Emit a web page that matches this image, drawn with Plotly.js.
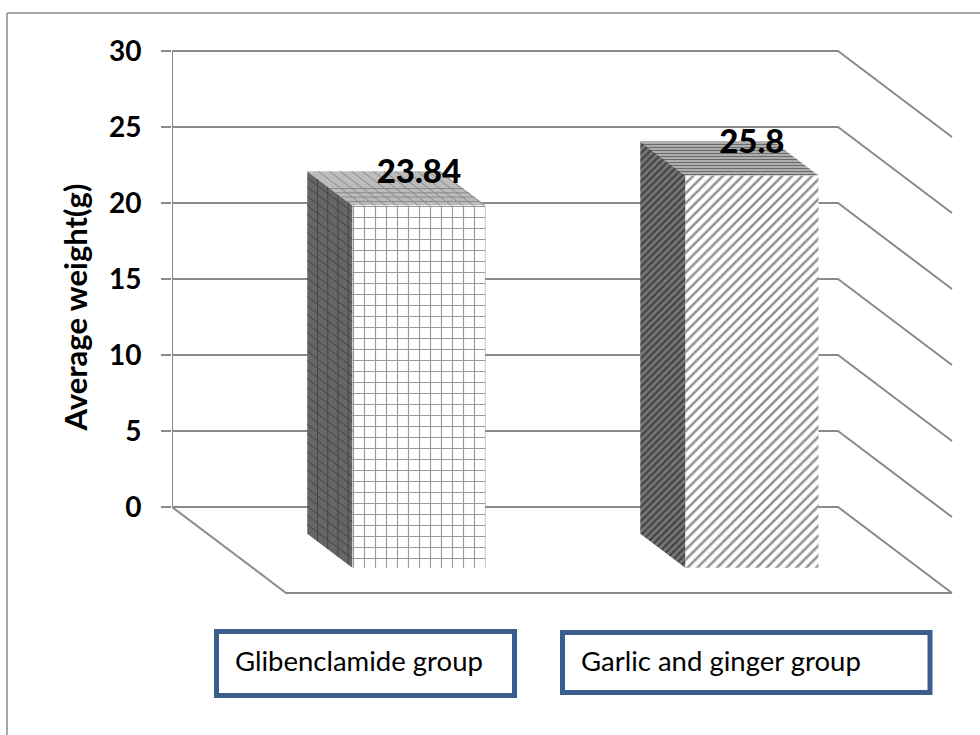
<!DOCTYPE html>
<html>
<head>
<meta charset="utf-8">
<script src="https://cdn.plot.ly/plotly-3.0.1.min.js"></script>
<style>html,body{margin:0;padding:0;background:#fff}</style>
</head>
<body>
<div id="chart" style="width:980px;height:735px"></div>
<script>
// Average weight per treatment group
const categories = ["Glibenclamide group", "Garlic and ginger group"];
const values = [23.84, 25.8];
const tickValues = [0, 5, 10, 15, 20, 25, 30];

// Plot frame in page pixels
const L = 172, R = 960, T = 14, B = 600, W = 980, H = 735;
const pxPerUnit = 15.2, pxPerCategory = 333;
const zeroPx = 507;

// Oblique projection: depth 0 is the back wall, depth 1 the front of the floor
const depthX = 114 / pxPerCategory, depthY = 86 / pxPerUnit;
const barWidth = 0.4, barBack = 0.31, barFront = 0.705;
const AXIS_GREY = "#8a8a8a";
const FONT = "Lato, 'Open Sans', sans-serif";

const proj = (cat, val, depth) => [cat + depth * depthX, val - depth * depthY];
const paperX = (p) => (p - L) / (R - L);
const paperY = (p) => (B - p) / (B - T);

function polyline(pts) {
  const path = pts.map((p, i) => (i ? "L" : "M") + p[0] + "," + p[1]).join(" ");
  return {type: "path", xref: "x", yref: "y", path, layer: "below",
          line: {color: AXIS_GREY, width: 2}};
}

// Back wall gridlines run across the wall and then forward along the side
const wallShapes = tickValues.map((v) => polyline([proj(0, v, 0), proj(2, v, 0), proj(2, v, 1)]));
wallShapes.push(polyline([proj(0, 0, 0), proj(0, 30, 0)]));
wallShapes.push(polyline([proj(0, 0, 0), proj(0, 0, 1), proj(2, 0, 1)]));

function paperRect(x0, y0, x1, y1, color, width) {
  return {type: "rect", xref: "paper", yref: "paper",
          x0: paperX(x0), x1: paperX(x1), y0: paperY(y0), y1: paperY(y1),
          line: {color, width}, fillcolor: "rgba(0,0,0,0)"};
}
function paperLine(x0, y0, x1, y1) {
  return {type: "line", xref: "paper", yref: "paper",
          x0: paperX(x0), x1: paperX(x1), y0: paperY(y0), y1: paperY(y1),
          line: {color: AXIS_GREY, width: 1.5}};
}

// Legend boxes and the outer chart border
const BOX = "#3a5f8f";
const pageShapes = [
  paperLine(7, 13, 7, 735), paperLine(7, 13, 980, 13),
  paperRect(216.5, 631.5, 514.5, 695.5, BOX, 5),
  paperRect(562.5, 632.5, 930, 692.5, BOX, 5)
];

// Front face hatching per bar
const frontPattern = {
  shape: ["+", "/"], size: [11, 7], solidity: [0.2, 0.36],
  fgcolor: ["#9a9a9a", "#8f8f8f"], bgcolor: ["#ffffff", "#ffffff"], fillmode: "replace"
};

const centers = categories.map((_, i) => i + 0.5);
const frontFloor = -barFront * depthY;
const labelLift = 31 / pxPerUnit;

// Front faces: bars standing on the projected floor
const frontTrace = {
  type: "bar",
  x: centers.map((c) => c + barFront * depthX),
  y: values,
  base: values.map(() => frontFloor),
  width: barWidth,
  marker: {color: "#ffffff", line: {width: 0}, pattern: frontPattern},
  hoverinfo: "skip", showlegend: false
};

function faceTrace(pts, fillcolor, pattern) {
  const ring = pts.concat([pts[0]]);
  const t = {
    type: "scatter", mode: "lines", fill: "toself",
    x: ring.map((p) => p[0]), y: ring.map((p) => p[1]),
    line: {width: 0}, fillcolor,
    hoverinfo: "skip", showlegend: false
  };
  if (pattern) t.fillpattern = pattern;
  return t;
}

// A set of ruled segments following the projection, for the skewed check pattern
function ruling(segments, color, width) {
  const x = [], y = [];
  segments.forEach(([a, b]) => { x.push(a[0], b[0], null); y.push(a[1], b[1], null); });
  return {type: "scatter", mode: "lines", x, y, line: {color, width},
          hoverinfo: "skip", showlegend: false};
}

const faceTraces = [];
values.forEach((v, i) => {
  const l = centers[i] - barWidth / 2, r = centers[i] + barWidth / 2;
  const side = [proj(l, 0, barBack), proj(l, 0, barFront), proj(l, v, barFront), proj(l, v, barBack)];
  const top = [proj(l, v, barBack), proj(l, v, barFront), proj(r, v, barFront), proj(r, v, barBack)];
  if (i === 0) {
    // Check pattern, ruled in the plane of each face
    faceTraces.push(faceTrace(side, "#666666"));
    const sideLines = [];
    for (let d = barBack + 0.09; d < barFront; d += 0.09) sideLines.push([proj(l, 0, d), proj(l, v, d)]);
    for (let u = 0.6; u < v; u += 0.6) sideLines.push([proj(l, u, barBack), proj(l, u, barFront)]);
    faceTraces.push(ruling(sideLines, "#444444", 1));
    faceTraces.push(faceTrace(top, "#bcbcbc"));
    const topLines = [];
    for (let c = l + 0.033; c < r; c += 0.033) topLines.push([proj(c, v, barBack), proj(c, v, barFront)]);
    for (let d = barBack + 0.2; d < barFront; d += 0.05) topLines.push([proj(l, v, d), proj(r, v, d)]);
    faceTraces.push(ruling(topLines, "#8a8a8a", 1));
  } else {
    faceTraces.push(faceTrace(side, "#777777",
      {shape: "/", size: 5, solidity: 0.45, fgcolor: "#444444", bgcolor: "#777777"}));
    faceTraces.push(faceTrace(top, "#bdbdbd",
      {shape: "-", size: 3, solidity: 0.45, fgcolor: "#6a6a6a", bgcolor: "#bdbdbd"}));
  }
});

// Value labels float above the front edge of each bar top
const labelTrace = {
  type: "scatter", mode: "text",
  x: centers.map((c) => c + barFront * depthX),
  y: values.map((v) => v + frontFloor + labelLift),
  text: values.map(String),
  textposition: "middle center",
  textfont: {family: FONT, size: 33, color: "#000", weight: 900},
  hoverinfo: "skip", showlegend: false, cliponaxis: false
};

const layout = {
  width: W, height: H,
  margin: {l: L, r: W - R, t: T, b: H - B, pad: 0},
  paper_bgcolor: "#ffffff", plot_bgcolor: "rgba(0,0,0,0)",
  showlegend: false, hovermode: false,
  xaxis: {range: [0, (R - L) / pxPerCategory], visible: false, fixedrange: true},
  yaxis: {
    range: [(zeroPx - B) / pxPerUnit, (zeroPx - T) / pxPerUnit],
    tickmode: "array", tickvals: tickValues, ticktext: tickValues.map(String),
    ticks: "outside", ticklen: 10, tickwidth: 2, tickcolor: AXIS_GREY,
    ticklabelstandoff: 14,
    showgrid: false, zeroline: false, showline: false, fixedrange: true,
    tickfont: {family: FONT, size: 28, color: "#000", weight: 700},
    title: {text: "Average weight(g)", standoff: 12,
            font: {family: FONT, size: 31, color: "#000", weight: 700}}
  },
  shapes: wallShapes.concat(pageShapes),
  annotations: [
    {xref: "paper", yref: "paper", x: paperX(233), y: paperY(660), xanchor: "left", yanchor: "middle",
     text: categories[0], showarrow: false, font: {family: FONT, size: 27.5, color: "#000"}},
    {xref: "paper", yref: "paper", x: paperX(579), y: paperY(660), xanchor: "left", yanchor: "middle",
     text: categories[1], showarrow: false, font: {family: FONT, size: 27.5, color: "#000"}}
  ]
};

Plotly.newPlot("chart", [frontTrace].concat(faceTraces, [labelTrace]), layout, {displayModeBar: false, staticPlot: true});
</script>
</body>
</html>
